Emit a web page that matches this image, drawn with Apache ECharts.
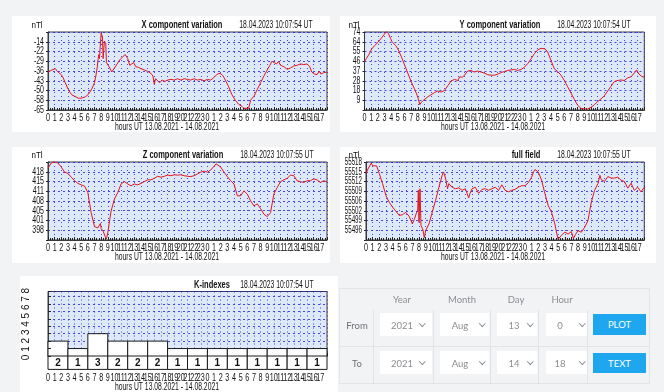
<!DOCTYPE html>
<html>
<head>
<meta charset="utf-8">
<script src="https://cdn.jsdelivr.net/npm/echarts@6/dist/echarts.min.js"></script>
<style>
  html, body { margin: 0; padding: 0; }
  body { width: 664px; height: 392px; background: #f2f3f5; position: relative; overflow: hidden; font-family: Lato, 'Liberation Sans', sans-serif; }
  .panel { position: absolute; background: #ffffff; }
  #chart { position: absolute; left: 0; top: 0; width: 664px; height: 392px; }
  #form { position: absolute; left: 339px; top: 288px; width: 311px; height: 96px; border: 1px solid #e2e4e7; box-sizing: border-box; }
  .hd { position: absolute; top: 5px; font-size: 9.5px; color: #8b8e92; transform: translateX(-50%); }
  .rowlbl { position: absolute; font-size: 9.5px; color: #6f7276; transform: translate(-50%, -50%); }
  .vl { position: absolute; width: 1px; background: #e2e4e7; }
  .hl { position: absolute; height: 1px; background: #e2e4e7; }
  .sel { position: absolute; background: #fff; height: 23px; font-size: 9.5px; color: #8b8e92; }
  .sel span.t { position: absolute; top: 50%; transform: translate(-50%, -50%); }
  .sel span.c { position: absolute; top: 8px; width: 3.5px; height: 3.5px; border-right: 1px solid #8b8e92; border-bottom: 1px solid #8b8e92; transform: rotate(45deg); }
  .btn { position: absolute; background: #1ea7ee; color: #fff; font-size: 9.5px; display: flex; align-items: center; justify-content: center; }
</style>
</head>
<body>
<div class="panel" style="left:12px;top:16px;width:318px;height:116px"></div>
<div class="panel" style="left:340px;top:16px;width:316px;height:116px"></div>
<div class="panel" style="left:12px;top:147px;width:318px;height:116px"></div>
<div class="panel" style="left:340px;top:147px;width:316px;height:116px"></div>
<div class="panel" style="left:20px;top:276px;width:318px;height:116px"></div>
<div id="chart"></div>

<div id="form">
  <div class="hd" style="left:62px">Year</div>
  <div class="hd" style="left:122px">Month</div>
  <div class="hd" style="left:176px">Day</div>
  <div class="hd" style="left:222px">Hour</div>
  <div class="vl" style="left:33px;top:21px;height:74px"></div>
  <div class="vl" style="left:93px;top:21px;height:74px"></div>
  <div class="vl" style="left:150px;top:21px;height:74px"></div>
  <div class="vl" style="left:198px;top:21px;height:74px"></div>
  <div class="vl" style="left:247px;top:21px;height:74px"></div>
  <div class="hl" style="left:0;top:57px;width:309px"></div>
  <div class="rowlbl" style="left:17px;top:36px">From</div>
  <div class="rowlbl" style="left:17px;top:74px">To</div>

  <div class="sel" style="left:40px;top:24px;width:52px"><span class="t" style="left:22px">2021</span><span class="c" style="left:40px"></span></div>
  <div class="sel" style="left:100px;top:24px;width:49px"><span class="t" style="left:20px">Aug</span><span class="c" style="left:40px"></span></div>
  <div class="sel" style="left:157px;top:24px;width:40px"><span class="t" style="left:17px">13</span><span class="c" style="left:31px"></span></div>
  <div class="sel" style="left:206px;top:24px;width:41px"><span class="t" style="left:14px">0</span><span class="c" style="left:34px"></span></div>
  <div class="btn" style="left:253px;top:25px;width:53px;height:21px">PLOT</div>

  <div class="sel" style="left:40px;top:62px;width:52px"><span class="t" style="left:22px">2021</span><span class="c" style="left:40px"></span></div>
  <div class="sel" style="left:100px;top:62px;width:49px"><span class="t" style="left:20px">Aug</span><span class="c" style="left:40px"></span></div>
  <div class="sel" style="left:157px;top:62px;width:40px"><span class="t" style="left:17px">14</span><span class="c" style="left:31px"></span></div>
  <div class="sel" style="left:206px;top:62px;width:41px"><span class="t" style="left:14px">18</span><span class="c" style="left:34px"></span></div>
  <div class="btn" style="left:253px;top:64px;width:53px;height:20px">TEXT</div>
</div>

<script>
// ---- time axis: hours since 13.08.2021 00:00 UT ----
const hourLabels = ['0','1','2','3','4','5','6','7','8','9','10','11','12','13','14','15','16','17','18','19','20','21','22','23',
                    '0','1','2','3','4','5','6','7','8','9','10','11','12','13','14','15','16','17'];

// ---- X component (nT) ----
const xHours = [0,0.3,0.6,0.9,1.1,1.4,1.7,2.0,2.3,2.6,3.0,3.3,3.6,4.0,4.3,4.6,5.0,5.3,5.6,6.0,6.3,6.6,7.0,7.2,7.4,7.55,7.65,7.75,7.85,8.0,8.1,8.2,8.3,8.4,8.5,8.7,8.8,9.0,9.3,9.6,10.0,10.4,10.8,11.2,11.6,12.0,12.3,12.6,12.9,13.2,13.6,14.0,14.5,15.0,15.5,15.8,16.0,16.2,16.5,16.8,17.2,17.6,18.0,18.5,19.0,19.5,20.0,20.5,21.0,21.5,22.0,22.5,23.0,23.5,24.0,24.5,25.0,25.5,25.9,26.3,26.7,27.2,27.7,28.2,28.7,29.2,29.5,29.8,30.2,30.5,31.0,31.5,32.0,32.5,33.0,33.4,33.7,34.0,34.4,34.7,35.0,35.5,36.0,36.5,37.0,37.5,38.0,38.5,39.0,39.4,39.7,40.1,40.5,40.8,41.1,41.5,42.0];
const xValues = [-37,-36.5,-35.5,-36,-34.5,-36.5,-36,-39,-41.5,-45,-49.5,-52,-54,-55,-55.5,-56.5,-56.5,-55.5,-55.5,-54,-52,-49.5,-45,-40,-34,-27,-24,-27,-19,-8,-8,-11,-27,-20,-14,-16,-30,-31,-34,-37,-34,-31,-28,-26,-24,-27,-32,-31,-30,-33,-33.5,-34.5,-35.5,-36.5,-38,-40,-46,-42,-43,-45,-43,-44,-43,-42.5,-43,-42,-43,-42,-42.5,-43,-42,-43,-42.5,-43.5,-42.5,-43,-41,-38.5,-38,-39.5,-43,-48,-54,-58,-61,-62.5,-64,-64.5,-64,-58,-55,-50,-45,-40,-35.5,-32,-29,-30,-31,-29,-32,-33,-35,-34,-32.5,-32,-31,-31.5,-31,-33,-37,-38.5,-39,-36.5,-38.5,-37.5,-37];
const xTickLabels = ['-65','-58','-50','-43','-36','-29','-22','-14',''];

// ---- Y component (nT) ----
const yHours = [0,0.3,0.6,0.9,1.1,1.3,1.5,1.8,2.0,2.5,3.0,3.3,3.6,3.9,4.1,4.4,4.7,5.0,5.5,6.0,6.5,7.0,7.5,7.9,8.1,8.3,8.5,8.8,9.0,9.5,10.0,10.5,11.0,11.5,12.0,12.5,13.0,13.5,14.0,14.3,14.7,15.0,15.5,16.0,16.5,17.0,17.5,18.0,18.5,19.0,19.5,20.0,20.5,21.0,21.5,22.0,22.5,23.0,23.5,24.0,24.5,25.0,25.5,26.0,26.5,26.8,27.1,27.5,28.0,28.5,29.0,29.5,30.0,30.5,31.0,31.5,32.0,32.5,33.0,33.5,34.0,34.5,35.0,35.5,36.0,36.5,37.0,37.5,38.0,38.5,39.0,39.5,40.0,40.5,40.85,41.2,41.6,42.0];
const yValues = [46,49,52,53,58,57,61,61,64,68,72,74.5,72.5,68,65,63.5,61,58,51,43,35,27,20,14,10,5,7,9,10,12.5,14.5,16.5,18,17,18.5,23,27.5,29,28,31.5,31,33,37,37.5,36,37,36,35,33.5,33,33,34,35.5,36.5,37.5,38,38.5,37.5,38.5,40.5,44,48.5,53.5,57,58.5,60,58,55,47,39,36.5,33,28,22,16,10,4.5,1.5,1,1,2.5,5,8,10.5,13.5,18,22.5,27,28,28.5,28,30.5,31.5,35,38,34,32,31];
const yTickLabels = ['','9','18','28','37','46','55','64','74'];

// ---- Z component (nT) ----
const zHours = [0,0.5,1.0,1.5,2.0,2.5,3.0,3.5,4.0,4.5,5.0,5.5,6.0,6.5,7.0,7.5,7.8,7.9,8.0,8.3,8.6,8.8,9.0,9.3,9.5,10.0,10.5,11.0,11.5,12.0,12.5,13.0,13.5,14.0,14.5,15.0,15.5,16.0,16.5,17.0,17.5,18.0,18.5,19.0,19.5,20.0,20.5,21.0,21.5,22.0,22.5,23.0,23.5,24.0,24.5,25.0,25.3,25.5,26.0,26.5,27.0,27.5,28.0,28.5,28.8,29.0,29.5,30.0,30.5,31.0,31.5,32.0,32.5,33.0,33.3,33.5,34.0,34.5,35.0,35.5,36.0,36.5,37.0,37.5,38.0,38.5,39.0,39.5,40.0,40.5,41.0,41.5,42.0];
const zValues = [419,420.8,421.2,420.8,419.4,417.7,417.3,416,414.8,413.9,413.4,413,410.8,404,399.3,398.9,399.5,400.4,398.6,397.8,396,395.2,397.2,401.7,404.6,408.6,410.8,413.7,414.5,413.7,413.1,413.7,413.4,413.9,414.5,415.1,415.1,415.6,416.3,416,416.3,416.7,416.5,416.8,416.7,416.8,416.5,416.3,416.2,416.5,417.1,417.7,418,417.7,418.4,419.7,420.5,420.2,419.4,417.7,416.2,414.8,413.7,409.7,409.1,409.7,411.4,410.3,408,406.3,407,405.4,403.5,402.7,402.3,404,410.3,412.5,414.5,415.1,415.6,416.7,416.5,414.8,414.5,414.2,414.8,414.8,415.4,415.1,414.2,414.8,414.4];
const zTickLabels = ['','398','401','405','408','411','415','418',''];

// ---- full field F (nT) ----
const fHours = [0,0.3,0.6,0.8,1.0,1.3,1.6,2.0,2.5,3.0,3.5,4.0,4.5,5.0,5.5,6.0,6.5,7.0,7.3,7.6,7.8,7.9,8.0,8.15,8.3,8.6,8.8,9.0,9.5,10.0,10.5,11.0,11.5,11.7,12.0,12.3,12.5,13.0,13.5,14.0,14.5,15.0,15.5,15.7,16.0,16.5,17.0,17.5,18.0,18.5,19.0,19.5,20.0,20.5,21.0,21.5,22.0,22.5,23.0,23.5,24.0,24.5,25.0,25.3,25.5,26.0,26.5,27.0,27.5,28.0,28.5,28.8,29.0,29.5,30.0,30.5,31.0,31.3,31.6,32.0,32.5,33.0,33.5,34.0,34.5,35.0,35.3,35.5,36.0,36.5,37.0,37.5,38.0,38.5,39.0,39.5,40.0,40.5,41.0,41.5,42.0];
const fValues = [55515,55516.5,55516,55518.4,55517.5,55517,55517.5,55515,55511.7,55507.8,55505.6,55504,55502.7,55501.3,55501.5,55502.3,55501,55498.5,55500,55502,55503,55509.5,55499,55510,55498,55496.5,55494,55496.3,55498.5,55502.3,55506.2,55510.5,55514.4,55515.5,55513.5,55510,55511.7,55510.5,55510,55510.3,55509.5,55510,55507,55508.5,55510,55510.5,55508.5,55509.8,55510,55509.5,55510,55510.5,55509.5,55511.3,55509.5,55509,55509.5,55509.8,55510.5,55511,55511,55512,55513.8,55515.6,55516.3,55515.5,55512.8,55508.4,55504.5,55502.3,55498.5,55495.2,55493.5,55494.8,55495.8,55495.2,55496,55493.7,55495,55496.3,55495.8,55497.4,55499.6,55505.6,55509.5,55511.7,55514.4,55513,55512.4,55514,55513.5,55513.5,55513.8,55512.8,55512.4,55510.2,55511.8,55509.5,55510.5,55509,55510.5];
const fTickLabels = ['','55496','55499','55502','55506','55509','55512','55515','55518'];

// ---- K-indexes, one per 3-hour interval ----
const kStartHours = [0,3,6,9,12,15,18,21,24,27,30,33,36,39];
const kValues = [2,1,3,2,2,2,1,1,1,1,1,1,1,1];
const kScaleDigits = ['0','1','2','3','4','5','6','7','8'];

const chartTitles = ['X component variation','Y component variation','Z component variation','full field','K-indexes'];
const stamps = ['18.04.2023 10:07:54 UT','18.04.2023 10:07:54 UT','18.04.2023 10:07:55 UT','18.04.2023 10:07:55 UT','18.04.2023 10:07:54 UT'];
const unitLabel = 'nTl';
const hoursTitle = 'hours UT 13.08.2021 - 14.08.2021';

// ---------------------------------------------------------------
const FONT = "'Liberation Sans', Arial, sans-serif";
const gridBox = [
  {left: 48,  top: 32,    width: 279,   height: 78},
  {left: 364.5, top: 32,  width: 279.8, height: 78},
  {left: 48,  top: 162,   width: 279,   height: 78},
  {left: 366, top: 162,   width: 278.3, height: 78},
  {left: 48,  top: 291.5, width: 279,   height: 64.5}
];
// value scales of the four line panels: [min, step, max]
const scales = [
  [-65.25, 7.25, -7.25],
  [0, 9.25, 74],
  [394.8, 3.29, 421.12],
  [55493.24, 3.19, 55518.76]
];
const tickLabelSets = [xTickLabels, yTickLabels, zTickLabels, fTickLabels];
const labelSqueeze = [0.7, 0.7, 0.7, 0.62];
const GRID_BLUE = '#2a2ad8';
const K_MAX = 8.67;     // top of the K-index scale
const K_CELL = -1.8;    // bottom of the cells holding the K numbers

const grid = gridBox.map(g => Object.assign({
  show: true, backgroundColor: '#dde9f9', borderColor: '#3a3a3a', borderWidth: 1, containLabel: false
}, g));

const xAxis = gridBox.map((g, i) => ({
  type: 'value', gridIndex: i, min: 0, max: 42, interval: 1,
  offset: i === 4 ? 13.5 : 0,
  axisLine: {show: true, lineStyle: {color: '#3a3a3a', width: 1}},
  axisTick: {show: true, inside: true, length: 3, lineStyle: {color: '#222'}},
  minorTick: {show: true, splitNumber: 3, length: 2, lineStyle: {color: '#222'}},
  axisLabel: {show: false},
  splitLine: {show: true, lineStyle: {color: GRID_BLUE, type: [1, 3], width: 1, opacity: 0.85}}
}));

const yAxis = scales.map((s, i) => ({
  type: 'value', gridIndex: i, min: s[0], max: s[2], interval: s[1],
  axisLine: {show: true, lineStyle: {color: '#3a3a3a'}},
  axisTick: {show: true, length: 2, lineStyle: {color: '#222'}},
  axisLabel: {show: false},
  splitLine: {show: true, lineStyle: {color: GRID_BLUE, type: [2, 3], width: 1, opacity: 0.85}}
}));
yAxis.push({
  type: 'value', gridIndex: 4, min: 0, max: K_MAX, interval: 1,
  axisLine: {show: true, lineStyle: {color: '#3a3a3a'}},
  axisTick: {show: false},
  axisLabel: {show: false},
  splitLine: {show: true, lineStyle: {color: GRID_BLUE, type: [2, 3], width: 1, opacity: 0.85}}
});
yAxis.push({
  // inner tick marks of the K scale, kept above the cells
  type: 'value', gridIndex: 4, min: 0, max: K_MAX, interval: 1, position: 'left', z: 6,
  axisLine: {show: false},
  axisTick: {show: true, inside: true, length: 3, lineStyle: {color: '#222'}},
  axisLabel: {show: false},
  splitLine: {show: false}
});

function lineSeries(i, hours, values) {
  return {
    type: 'line', xAxisIndex: i, yAxisIndex: i,
    data: hours.map((h, j) => [h, values[j]]),
    showSymbol: false, symbol: 'none', animation: false,
    lineStyle: {color: '#e4141b', width: 1}
  };
}

const kSeries = {
  type: 'custom', xAxisIndex: 4, yAxisIndex: 4, animation: false, z: 3, clip: false,
  data: kStartHours.map((s, j) => [s, s + 3, kValues[j]]),
  renderItem: (params, api) => {
    const s = api.value(0), e = api.value(1), k = api.value(2);
    const base = api.coord([s, K_CELL]);
    const top = api.coord([e, k]);
    const zero = api.coord([s, 0]);
    return {
      type: 'group',
      children: [
        {type: 'rect', shape: {x: base[0], y: top[1], width: top[0] - base[0], height: base[1] - top[1]},
         style: {fill: '#ffffff', stroke: '#1a1a1a', lineWidth: 1}},
        {type: 'line', shape: {x1: base[0], y1: zero[1], x2: top[0], y2: zero[1]},
         style: {stroke: '#1a1a1a', lineWidth: 1}},
        {type: 'text', x: (base[0] + top[0]) / 2, y: (zero[1] + base[1]) / 2 + 0.5,
         style: {text: String(k), align: 'center', verticalAlign: 'middle',
                 font: "bold 10px 'Liberation Sans', Arial, sans-serif", fill: '#111'}}
      ]
    };
  }
};

const chart = echarts.init(document.getElementById('chart'), null, {renderer: 'canvas'});
chart.setOption({
  backgroundColor: 'transparent',
  animation: false,
  grid: grid,
  xAxis: xAxis,
  yAxis: yAxis,
  series: [
    lineSeries(0, xHours, xValues),
    lineSeries(1, yHours, yValues),
    lineSeries(2, zHours, zValues),
    lineSeries(3, fHours, fValues),
    kSeries
  ]
});

// ---- texts: narrow-set tick labels placed through the axes, panel headers ----
function txt(x, y, text, opts) {
  return Object.assign({
    type: 'text', x: x, y: y, scaleX: opts.sx || 1, originX: 0, originY: 0, silent: true, z: 10,
    style: {text: text, align: opts.align || 'center', verticalAlign: 'middle', fill: '#111',
            font: (opts.bold ? 'bold ' : '') + (opts.size || 10) + 'px ' + FONT}
  }, opts.extra || {});
}

const graphics = [];

// value labels on the left of each line panel
scales.forEach((s, i) => {
  tickLabelSets[i].forEach((label, j) => {
    if (!label) return;
    const p = chart.convertToPixel({seriesIndex: i}, [0, s[0] + j * s[1]]);
    graphics.push(txt(p[0] - 4, p[1], label, {size: 10, sx: labelSqueeze[i], align: 'right'}));
  });
});

// hour labels under every panel
for (let i = 0; i < 5; i++) {
  const bottom = i < 4 ? scales[i][0] : K_CELL;
  hourLabels.forEach((label, h) => {
    const p = chart.convertToPixel({seriesIndex: i}, [h, bottom]);
    graphics.push(txt(p[0], p[1] + 8.7, label, {size: 10, sx: 0.72}));
  });
}

const headerPos = [
  {unit: [37, 25], title: [182, 25], stamp: [276, 25], hours: [167, 127]},
  {unit: [354, 25], title: [500, 25], stamp: [594, 25], hours: [493, 127]},
  {unit: [37, 155], title: [183, 155], stamp: [277, 155], hours: [167, 257]},
  {unit: [354, 155], title: [526, 155], stamp: [594, 155], hours: [493, 257]},
  {unit: null, title: [212, 285], stamp: [277, 285], hours: [167, 387]}
];
headerPos.forEach((p, i) => {
  if (p.unit) graphics.push(txt(p.unit[0], p.unit[1], unitLabel, {size: 9.5, sx: 0.85}));
  graphics.push(txt(p.title[0], p.title[1], chartTitles[i], {size: 10, bold: true, sx: 0.75}));
  graphics.push(txt(p.stamp[0], p.stamp[1], stamps[i], {size: 10, sx: 0.68}));
  graphics.push(txt(p.hours[0], p.hours[1], hoursTitle, {size: 10, sx: 0.68}));
});
// K scale legend, written vertically on the left
graphics.push(txt(26, 324, kScaleDigits.join(' '), {size: 10, extra: {rotation: Math.PI / 2}}));

chart.setOption({graphic: graphics});
</script>
</body>
</html>
